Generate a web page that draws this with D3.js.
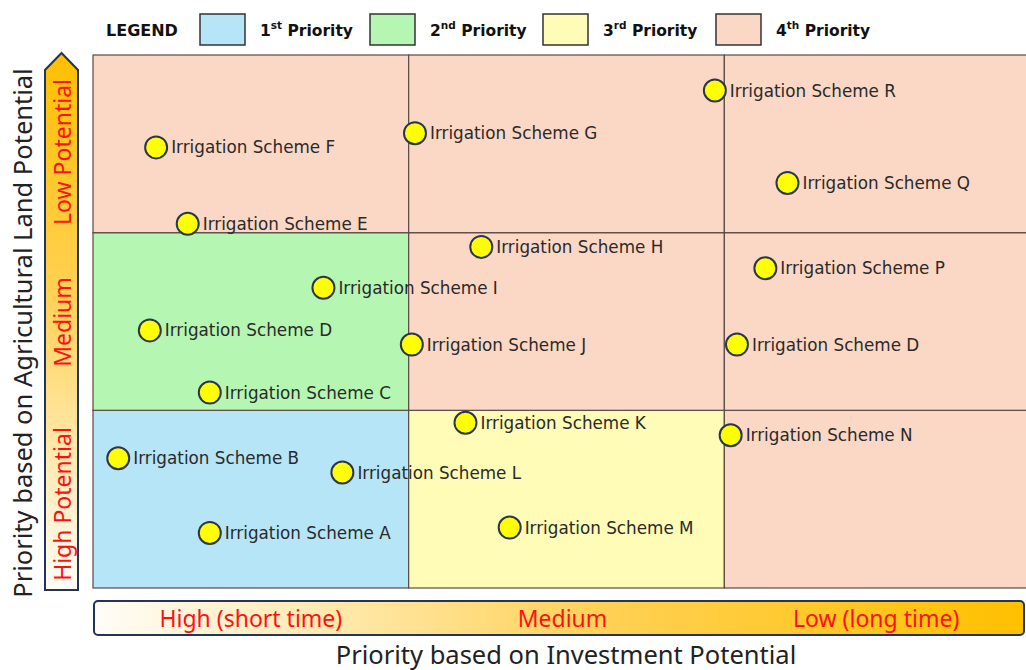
<!DOCTYPE html>
<html><head><meta charset="utf-8">
<script src="https://cdn.jsdelivr.net/npm/d3@7"></script>
<style>html,body{margin:0;padding:0;background:#fff;overflow:hidden}</style>
</head><body>
<svg id="chart" width="1026" height="670"></svg>
<script>
// ---- data ----
const schemeNames = ["Irrigation Scheme A","Irrigation Scheme B","Irrigation Scheme C","Irrigation Scheme D","Irrigation Scheme E","Irrigation Scheme F","Irrigation Scheme G","Irrigation Scheme H","Irrigation Scheme I","Irrigation Scheme J","Irrigation Scheme K","Irrigation Scheme L","Irrigation Scheme M","Irrigation Scheme N","Irrigation Scheme D","Irrigation Scheme P","Irrigation Scheme Q","Irrigation Scheme R"];
// investment score (0 = high/short time .. 3 = low/long time)
const investmentScore = [0.37,0.08,0.37,0.18,0.30,0.20,1.02,1.23,0.73,1.01,1.18,0.79,1.32,2.02,2.04,2.13,2.20,1.97];
// land score (0 = high potential .. 3 = low potential)
const landScore = [0.31,0.73,1.10,1.45,2.05,2.48,2.56,1.92,1.69,1.37,0.93,0.65,0.34,0.86,1.37,1.80,2.28,2.80];
const xBandLabels = ["High (short time)","Medium","Low (long time)"];
const yBandLabels = ["High Potential","Medium","Low Potential"];
const priorityLabels = [["1","st"],["2","nd"],["3","rd"],["4","th"]];
// priority of each cell [row (land band 0..2)][col (investment band 0..2)]
const cellPriority = [[1,3,4],[2,4,4],[4,4,4]];

const priorityColors = {1:"#b5e5f7",2:"#b4f6b2",3:"#fefcb6",4:"#fad8c5"};

const svg = d3.select("#chart");
const x = d3.scaleLinear().domain([0,3]).range([93,1040]);
const y = d3.scaleLinear().domain([0,3]).range([588,55]);

const defs = svg.append("defs");
const gx = defs.append("linearGradient").attr("id","gx").attr("x1","0").attr("x2","1").attr("y1","0").attr("y2","0");
gx.append("stop").attr("offset","0%").attr("stop-color","#fffdf8");
gx.append("stop").attr("offset","55%").attr("stop-color","#ffd155");
gx.append("stop").attr("offset","100%").attr("stop-color","#ffc000");
const gy = defs.append("linearGradient").attr("id","gy").attr("x1","0").attr("x2","0").attr("y1","1").attr("y2","0");
gy.append("stop").attr("offset","0%").attr("stop-color","#fffdf8");
gy.append("stop").attr("offset","55%").attr("stop-color","#ffd155");
gy.append("stop").attr("offset","100%").attr("stop-color","#ffc000");

// cells
const cells = [];
cellPriority.forEach((row,r)=>row.forEach((p,c)=>cells.push({r,c,p})));
svg.append("g").selectAll("rect").data(cells).join("rect")
  .attr("x",d=>x(d.c)).attr("y",d=>y(d.r+1))
  .attr("width",d=>x(d.c+1)-x(d.c)).attr("height",d=>y(d.r)-y(d.r+1))
  .attr("fill",d=>priorityColors[d.p])
  .attr("stroke","#5a4a45").attr("stroke-width",1.2);

// points
const pts = schemeNames.map((n,i)=>({n,xv:investmentScore[i],yv:landScore[i]}));
const pg = svg.append("g");
pg.selectAll("circle").data(pts).join("circle")
  .attr("cx",d=>x(d.xv)).attr("cy",d=>y(d.yv)).attr("r",11)
  .attr("fill","#ffff00").attr("stroke","#2b3550").attr("stroke-width",2);
pg.selectAll("text").data(pts).join("text")
  .attr("x",d=>x(d.xv)+15).attr("y",d=>y(d.yv)+6)
  .attr("font-family","DejaVu Sans").attr("font-size",16.8).attr("fill","#2a2a2a")
  .text(d=>d.n);

// legend
const lg = svg.append("g").attr("font-family","DejaVu Sans").attr("font-weight","bold").attr("fill","#111");
lg.append("text").attr("x",106).attr("y",36).attr("font-size",16).text("LEGEND");
const legX = [200,370,543,716];
priorityLabels.forEach((pl,i)=>{
  lg.append("rect").attr("x",legX[i]).attr("y",14).attr("width",45).attr("height",31)
    .attr("fill",priorityColors[i+1]).attr("stroke","#333").attr("stroke-width",1.5);
  const t = lg.append("text").attr("x",legX[i]+60).attr("y",36).attr("font-size",15.5);
  t.append("tspan").text(pl[0]);
  t.append("tspan").attr("font-size",10.5).attr("dy",-7).text(pl[1]);
  t.append("tspan").attr("dy",7).text(" Priority");
});

// y arrow
const ax0=45, ax1=78, aTop=70, aPeak=53, aBot=590;
svg.append("path")
  .attr("d",`M${ax0},${aBot} L${ax0},${aTop} L${(ax0+ax1)/2},${aPeak} L${ax1},${aTop} L${ax1},${aBot} Z`)
  .attr("fill","url(#gy)").attr("stroke","#233556").attr("stroke-width",2);
const yBandCenters = [504,322,152];
svg.append("g").selectAll("text").data(yBandLabels).join("text")
  .attr("transform",(d,i)=>`translate(71,${yBandCenters[i]}) rotate(-90)`)
  .attr("text-anchor","middle").attr("font-family","Noto Sans").attr("font-size",23).attr("fill","#ff1010")
  .text(d=>d);

// x bar
svg.append("rect").attr("x",94).attr("y",601).attr("width",930).attr("height",34).attr("rx",4)
  .attr("fill","url(#gx)").attr("stroke","#233556").attr("stroke-width",2);
const xBandShift = [0,-4,-6];
svg.append("g").selectAll("text").data(xBandLabels).join("text")
  .attr("x",(d,i)=>x(i+0.5)+xBandShift[i]).attr("y",627)
  .attr("text-anchor","middle").attr("font-family","Noto Sans").attr("font-size",23).attr("fill","#ff1010")
  .text(d=>d);

// titles
svg.append("text").attr("x",566).attr("y",664).attr("text-anchor","middle")
  .attr("font-family","Noto Sans").attr("font-size",25.5).attr("fill","#222")
  .text("Priority based on Investment Potential");
svg.append("text").attr("transform","translate(32,333) rotate(-90)").attr("text-anchor","middle")
  .attr("font-family","Noto Sans").attr("font-size",25.5).attr("fill","#222")
  .text("Priority based on Agricultural Land Potential");
</script>
</body></html>
